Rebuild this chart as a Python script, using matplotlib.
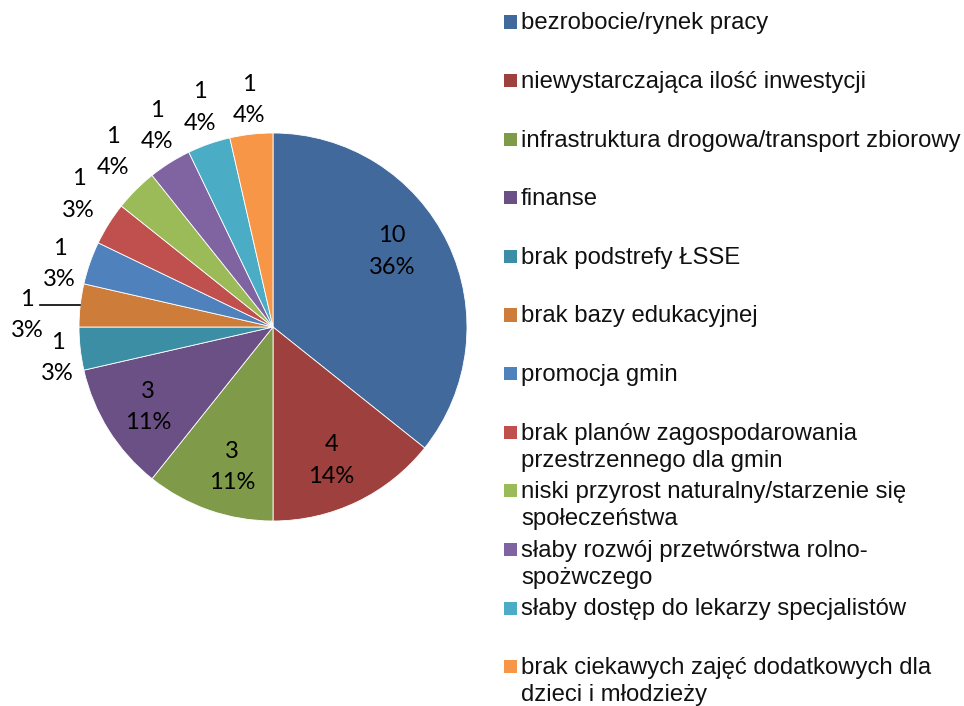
import numpy as np
import matplotlib
matplotlib.use('Agg')
from matplotlib import pyplot as plt
from matplotlib.patches import Rectangle

# problem categories and number of answers
categories = [
    'bezrobocie/rynek pracy',
    'niewystarczająca ilość inwestycji',
    'infrastruktura drogowa/transport zbiorowy',
    'finanse',
    'brak podstrefy ŁSSE',
    'brak bazy edukacyjnej',
    'promocja gmin',
    'brak planów zagospodarowania\nprzestrzennego dla gmin',
    'niski przyrost naturalny/starzenie się\nspołeczeństwa',
    'słaby rozwój przetwórstwa rolno-\nspożwczego',
    'słaby dostęp do lekarzy specjalistów',
    'brak ciekawych zajęć dodatkowych dla\ndzieci i młodzieży',
]
counts = [10, 4, 3, 3, 1, 1, 1, 1, 1, 1, 1, 1]
percent_labels = ['36%', '14%', '11%', '11%', '3%', '3%', '3%', '3%', '4%', '4%', '4%', '4%']

colors = ['#41699B', '#9E403D', '#7F9A48', '#6A5085', '#3C8EA5', '#CD7C39',
          '#4F81BD', '#C0504D', '#9BBB59', '#8064A2', '#4BACC6', '#F79646']
# data label placement: radius (fraction of pie radius) and clockwise shift from slice middle (deg)
label_r = [0.733, 0.74, 0.74, 0.76, 1.12, 1.27, 1.15, 1.22, 1.23, 1.205, 1.204, 1.19]
label_shift = [-7.5, 1.8, -2.8, 0.3, -1.2, -3.1, -2.3, 2.6, 3.0, 2.4, 1.1, 0.4]

W, H = 964, 706
fig = plt.figure(figsize=(W / 100, H / 100), dpi=100)

cx, cy, R = 273, 327, 194
ax = fig.add_axes([(cx - R) / W, (H - cy - R) / H, 2 * R / W, 2 * R / H])
wedges, _ = ax.pie(counts, colors=colors, startangle=90, counterclock=False,
                   radius=1, wedgeprops=dict(edgecolor='white', linewidth=0.6))
ax.set_xlim(-1, 1)
ax.set_ylim(-1, 1)
ax.set_aspect('equal')
ax.axis('off')

for i, w in enumerate(wedges):
    mid = np.deg2rad((w.theta1 + w.theta2) / 2)
    ang = mid - np.deg2rad(label_shift[i])
    r = label_r[i]
    x, y = r * np.cos(ang), r * np.sin(ang)
    ax.text(x, y - 0.012, '{0}\n{1}'.format(counts[i], percent_labels[i]), ha='center',
            va='center', fontsize=17, family='Lato', linespacing=1.6, clip_on=False)
    if r > 1.25:
        # leader line from the slice edge to its label
        ex, ey = np.cos(mid), np.sin(mid)
        ax.plot([ex, x + 0.067], [ey, ey], color='black', lw=1.2, clip_on=False)

# legend drawn row by row on the right
row0, step = 22, 58.6
for i, name in enumerate(categories):
    yc = row0 + i * step
    fig.patches.append(Rectangle((504 / W, (H - yc - 6.5) / H), 13 / W, 13 / H,
                                 transform=fig.transFigure, facecolor=colors[i],
                                 edgecolor='none'))
    fig.text(521 / W, (H - yc + 9.5) / H, name, ha='left', va='top', fontsize=17.2,
             family='Liberation Sans', linespacing=1.3, color='#111111')

fig.savefig('out.png', dpi=100)
